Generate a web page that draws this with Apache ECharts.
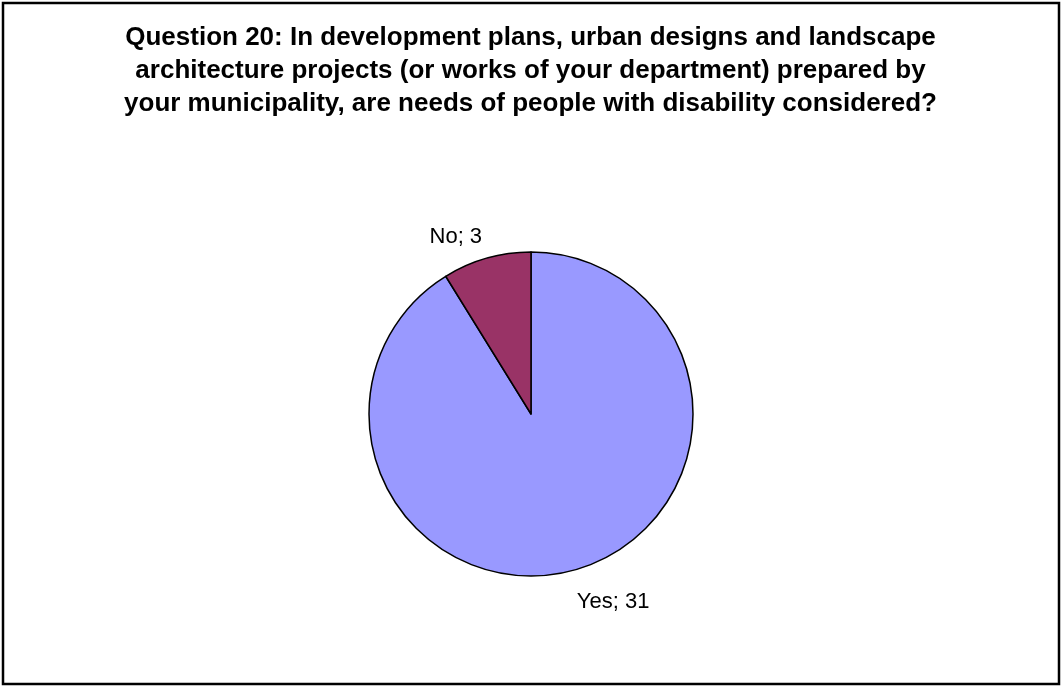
<!DOCTYPE html>
<html>
<head>
<meta charset="utf-8">
<style>
  html, body { margin: 0; padding: 0; background: #ffffff; }
  #chart { width: 1061px; height: 686px; }
</style>
<script src="https://cdn.jsdelivr.net/npm/echarts@6/dist/echarts.min.js"></script>
</head>
<body>
<div id="chart"></div>
<script>
// Survey answers, drawn clockwise from 12 o'clock
const categories = ['Yes', 'No'];
const answerCounts = [31, 3];
const sliceColors = ['#9999FF', '#993366'];
const titleText = 'Question 20: In development plans, urban designs and landscape\narchitecture projects (or works of your department) prepared by\nyour municipality, are needs of people with disability considered?';

// Per-slice leader length (line itself hidden) and small nudge of the label
const leaderLengths = [31, 24];
const labelNudgeX = [-7, 2];
const labelNudgeY = [2, 2];

const chart = echarts.init(document.getElementById('chart'), null, { renderer: 'canvas' });

const pieData = categories.map((name, i) => ({
  name: name,
  value: answerCounts[i],
  itemStyle: { color: sliceColors[i] },
  labelLine: { show: false, length: leaderLengths[i], length2: 0 }
}));

chart.setOption({
  backgroundColor: '#ffffff',
  animation: false,
  title: {
    text: titleText,
    left: 'center',
    top: 16,
    textStyle: {
      fontFamily: '"Liberation Sans", Arial, sans-serif',
      fontWeight: 'bold',
      fontSize: 26,
      lineHeight: 33,
      color: '#000000'
    }
  },
  graphic: [{
    type: 'rect',
    silent: true,
    shape: { x: 3, y: 3, width: 1056, height: 681 },
    style: { fill: 'none', stroke: '#000000', lineWidth: 2.5 }
  }],
  series: [{
    type: 'pie',
    center: [531, 414],
    radius: 162,
    startAngle: 90,
    clockwise: true,
    avoidLabelOverlap: false,
    itemStyle: { borderColor: '#000000', borderWidth: 1.5 },
    label: {
      show: true,
      position: 'outside',
      distanceToLabelLine: 0,
      fontFamily: '"Liberation Sans", Arial, sans-serif',
      fontSize: 22,
      color: '#000000',
      formatter: p => p.name + '; ' + p.value
    },
    labelLayout: p => ({ dx: labelNudgeX[p.dataIndex], dy: labelNudgeY[p.dataIndex] }),
    emphasis: { disabled: true },
    data: pieData
  }]
});
</script>
</body>
</html>
